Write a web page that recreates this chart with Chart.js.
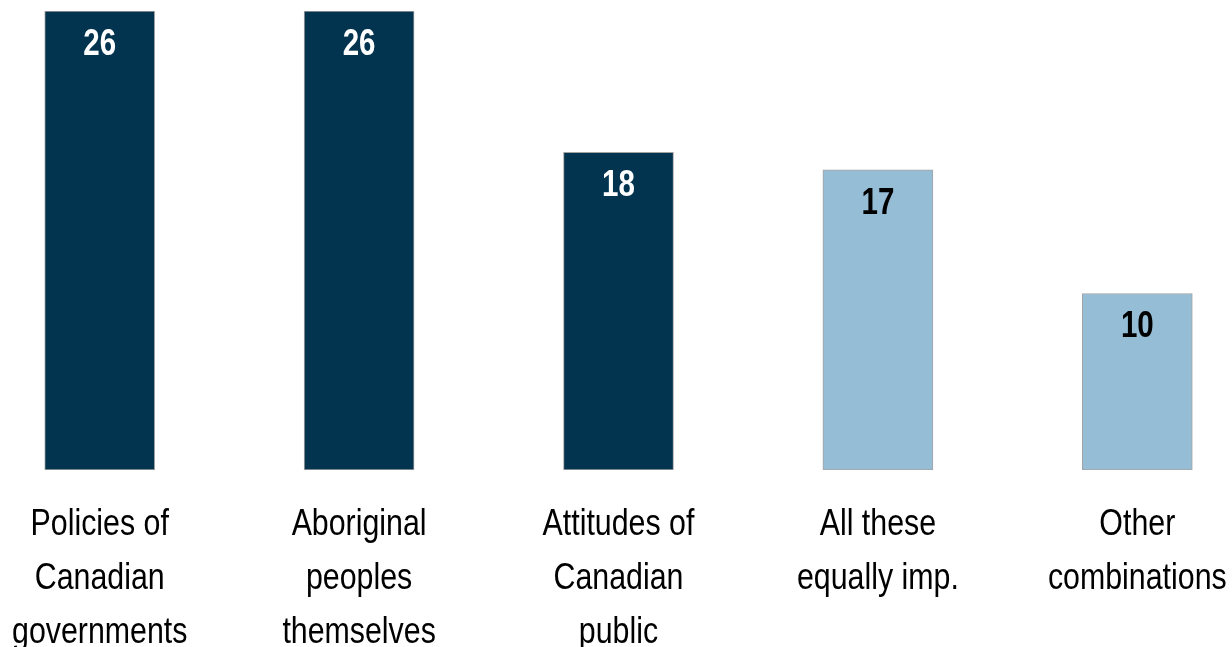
<!DOCTYPE html>
<html>
<head>
<meta charset="utf-8">
<script src="https://cdn.jsdelivr.net/npm/chart.js@4/dist/chart.umd.min.js"></script>
<style>
  html, body { margin: 0; padding: 0; background: #fff; overflow: hidden; }
  #wrap { position: absolute; left: -30px; top: 0; width: 1297px; height: 647px; }
</style>
</head>
<body>
<div id="wrap"><canvas id="chart"></canvas></div>
<script>
const categories = [
  ['Policies of', 'Canadian', 'governments'],
  ['Aboriginal', 'peoples', 'themselves'],
  ['Attitudes of', 'Canadian', 'public'],
  ['All these', 'equally imp.'],
  ['Other', 'combinations']
];
const values = [26, 26, 18, 17, 10];
const barColors = ['#02334f', '#02334f', '#02334f', '#95bdd6', '#95bdd6'];
const labelColors = ['#ffffff', '#ffffff', '#ffffff', '#000000', '#000000'];

// narrow face: Liberation Sans squeezed horizontally
const FONT = '"Liberation Sans", Arial, sans-serif';
const SQUEEZE = 0.82;

function narrowText(ctx, text, x, y) {
  ctx.save();
  ctx.translate(x, y);
  ctx.scale(SQUEEZE, 1);
  ctx.fillText(text, 0, 0);
  ctx.restore();
}

// value inside the top of each bar + category labels under the axis
const textLayer = {
  id: 'textLayer',
  afterDatasetsDraw(chart) {
    const ctx = chart.ctx;
    const meta = chart.getDatasetMeta(0);
    const xScale = chart.scales.x;
    ctx.save();
    ctx.textAlign = 'center';
    ctx.textBaseline = 'middle';

    ctx.font = 'bold 36px ' + FONT;
    meta.data.forEach((bar, i) => {
      ctx.fillStyle = labelColors[i];
      narrowText(ctx, String(values[i]), bar.x, bar.y + 34);
    });

    ctx.font = '37px ' + FONT;
    ctx.fillStyle = '#000';
    categories.forEach((lines, i) => {
      const x = xScale.getPixelForTick(i);
      lines.forEach((line, j) => {
        narrowText(ctx, line, x, xScale.top + 55 + j * 54);
      });
    });
    ctx.restore();
  }
};

new Chart(document.getElementById('chart'), {
  type: 'bar',
  data: {
    labels: categories,
    datasets: [{
      data: values,
      backgroundColor: barColors,
      borderColor: '#a3a3a3',
      borderWidth: 1,
      borderSkipped: false,
      barThickness: 110
    }]
  },
  options: {
    responsive: true,
    maintainAspectRatio: false,
    animation: false,
    layout: { padding: { top: 11, left: 0, right: 0, bottom: 0 } },
    plugins: {
      legend: { display: false },
      tooltip: { enabled: false }
    },
    scales: {
      x: {
        grid: { display: false, drawTicks: false },
        border: { display: false },
        ticks: { display: false },
        afterFit(scale) { scale.height = 177; }
      },
      y: {
        display: false,
        min: 0,
        max: 26
      }
    }
  },
  plugins: [textLayer]
});
</script>
</body>
</html>
